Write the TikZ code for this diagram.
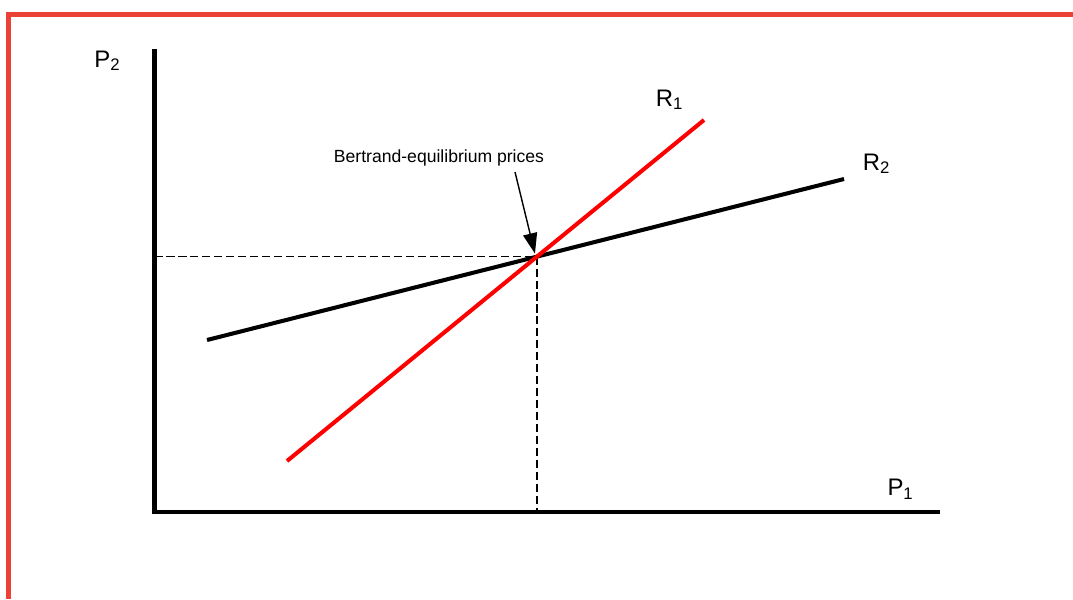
\documentclass[tikz,border=0pt]{standalone}
\usepackage{fontspec}
\setmainfont{Liberation Sans}
\usetikzlibrary{arrows.meta,intersections}
\begin{document}
\begin{tikzpicture}[x=0.01cm,y=-0.01cm,line cap=butt,line join=miter]
  \useasboundingbox (0,0) rectangle (1073,599);
  \tikzset{
    axislabel/.style={inner sep=0pt,font=\fontsize{6.8}{8}\selectfont},
    notelabel/.style={inner sep=0pt,font=\fontsize{5}{6}\selectfont},
    guide/.style={line width=0.45pt,dash pattern=on 2.3pt off 1.1pt}
  }
  % Frame
  \draw[line width=1.45pt,color={rgb,255:red,234;green,67;blue,53}]
    (8.5,599) -- (8.5,14.5) -- (1073,14.5);

  % Axis corners
  \coordinate (O) at (154.5,512);
  \coordinate (Ytop) at (154.5,49);
  \coordinate (Xend) at (940,512);

  % Reaction curves
  \coordinate (R1a) at (287,461);
  \coordinate (R1b) at (704,120);
  \coordinate (R2a) at (207,340);
  \coordinate (R2b) at (844,179);

  % Guides to the equilibrium
  \path[name path=rone] (R1a) -- (R1b);
  \path[name path=rtwo] (R2a) -- (R2b);
  \path[name intersections={of=rone and rtwo,by=eq}];
  \draw[guide] (O |- eq) -- (eq);
  \draw[guide] (eq) -- (eq |- O);

  \draw[line width=1.15pt] (R2a) -- (R2b);
  \draw[line width=1.15pt,red] (R1a) -- (R1b);

  % Axes
  \draw[line width=1.15pt] (Ytop) -- (O) -- (Xend);

  % Labels
  \node[axislabel] (p2) at (108,61) {P\textsubscript{2}};
  \node[axislabel] (p1) at (901,489) {P\textsubscript{1}};
  \node[axislabel] (r1) at (670,100) {R\textsubscript{1}};
  \node[axislabel] (r2) at (877,164) {R\textsubscript{2}};
  \node[notelabel] (bep) at (439,158) {Bertrand-equilibrium prices};
  \draw[line width=0.4pt,-{Triangle[length=5.8pt,width=4pt]}]
    (515,172) -- ([shift={(-2,-3)}]eq);
\end{tikzpicture}
\end{document}
